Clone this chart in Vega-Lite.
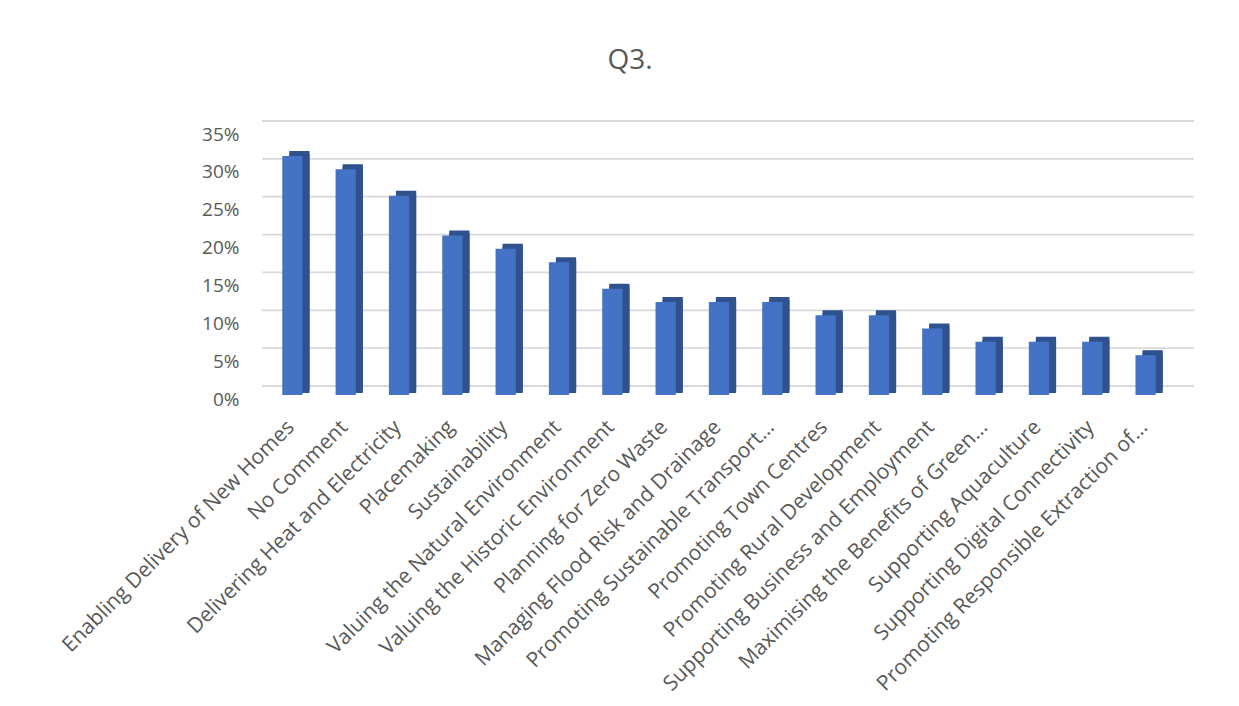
{
  "$schema": "https://vega.github.io/schema/vega-lite/v6.json",
  "autosize": {"type": "none"},
  "width": 914,
  "height": 265,
  "padding": {"left": 262, "top": 134, "right": 63, "bottom": 307},
  "background": "white",
  "title": {
    "text": "Q3.",
    "font": "Open Sans",
    "fontSize": 28,
    "fontWeight": "normal",
    "color": "#595959",
    "anchor": "middle",
    "frame": "group",
    "dx": -89,
    "baseline": "alphabetic",
    "offset": 23
  },
  "datasets": {
    "responses": [
      {"topic": "Enabling Delivery of New Homes", "share": 0.3158},
      {"topic": "No Comment", "share": 0.2982},
      {"topic": "Delivering Heat and Electricity", "share": 0.2632},
      {"topic": "Placemaking", "share": 0.2105},
      {"topic": "Sustainability", "share": 0.1930},
      {"topic": "Valuing the Natural Environment", "share": 0.1754},
      {"topic": "Valuing the Historic Environment", "share": 0.1404},
      {"topic": "Planning for Zero Waste", "share": 0.1228},
      {"topic": "Managing Flood Risk and Drainage", "share": 0.1228},
      {"topic": "Promoting Sustainable Transport…", "share": 0.1228},
      {"topic": "Promoting Town Centres", "share": 0.1053},
      {"topic": "Promoting Rural Development", "share": 0.1053},
      {"topic": "Supporting Business and Employment", "share": 0.0877},
      {"topic": "Maximising the Benefits of Green…", "share": 0.0702},
      {"topic": "Supporting Aquaculture", "share": 0.0702},
      {"topic": "Supporting Digital Connectivity", "share": 0.0702},
      {"topic": "Promoting Responsible Extraction of…", "share": 0.0526}
    ],
    "gridlines": [
      {"level": 0}, {"level": 0.05}, {"level": 0.1}, {"level": 0.15},
      {"level": 0.2}, {"level": 0.25}, {"level": 0.3}, {"level": 0.35}
    ]
  },
  "config": {
    "view": {"stroke": null},
    "font": "Open Sans",
    "axis": {"labelOverlap": false}
  },
  "resolve": {"scale": {"y": "shared"}, "axis": {"y": "independent"}},
  "layer": [
    {
      "data": {"name": "gridlines"},
      "mark": {"type": "rule", "color": "#D9D9D9", "strokeWidth": 1.8, "xOffset": 18, "yOffset": -13},
      "encoding": {
        "y": {"field": "level", "type": "quantitative", "scale": {"domain": [0, 0.35], "nice": false},
              "axis": {"title": null, "orient": "left", "values": [0.05, 0.15, 0.25, 0.35],
                       "format": ".0%", "grid": false, "domain": false, "ticks": false, "tickSize": 0,
                       "labelOverlap": false, "labelBound": false, "labelFlush": false,
                       "labelPadding": 23, "labelFont": "Open Sans", "labelFontSize": 19,
                       "labelColor": "#595959"}}
      }
    },
    {
      "data": {"name": "responses"},
      "mark": {"type": "bar", "color": "#2F528F", "xOffset": 7, "yOffset": -9},
      "encoding": {
        "x": {"field": "topic", "type": "nominal", "sort": null,
              "scale": {"paddingInner": 0.62, "paddingOuter": 0.38},
              "axis": {"title": null, "labelAngle": -45, "labelFont": "Open Sans", "labelFontSize": 21,
                       "labelColor": "#595959", "labelLimit": 500, "labelOverlap": false, "domain": false, "ticks": false,
                       "tickSize": 0, "labelPadding": 17, "labelOffset": -9}},
        "y": {"field": "share", "type": "quantitative",
              "axis": {"title": null, "orient": "left", "values": [0, 0.1, 0.2, 0.3],
                       "format": ".0%", "grid": false, "domain": false, "ticks": false, "tickSize": 0,
                       "labelOverlap": false, "labelBound": false, "labelFlush": false,
                       "labelPadding": 23, "labelFont": "Open Sans", "labelFontSize": 19,
                       "labelColor": "#595959"}}
      }
    },
    {
      "data": {"name": "responses"},
      "mark": {"type": "bar", "color": "#2F528F", "xOffset": 7, "yOffset": -6},
      "encoding": {
        "x": {"field": "topic", "type": "nominal", "sort": null},
        "y": {"field": "share", "type": "quantitative", "axis": null}
      }
    },
    {
      "data": {"name": "responses"},
      "mark": {"type": "bar", "color": "#4472C4", "yOffset": -4},
      "encoding": {
        "x": {"field": "topic", "type": "nominal", "sort": null},
        "y": {"field": "share", "type": "quantitative", "axis": null}
      }
    }
  ]
}
